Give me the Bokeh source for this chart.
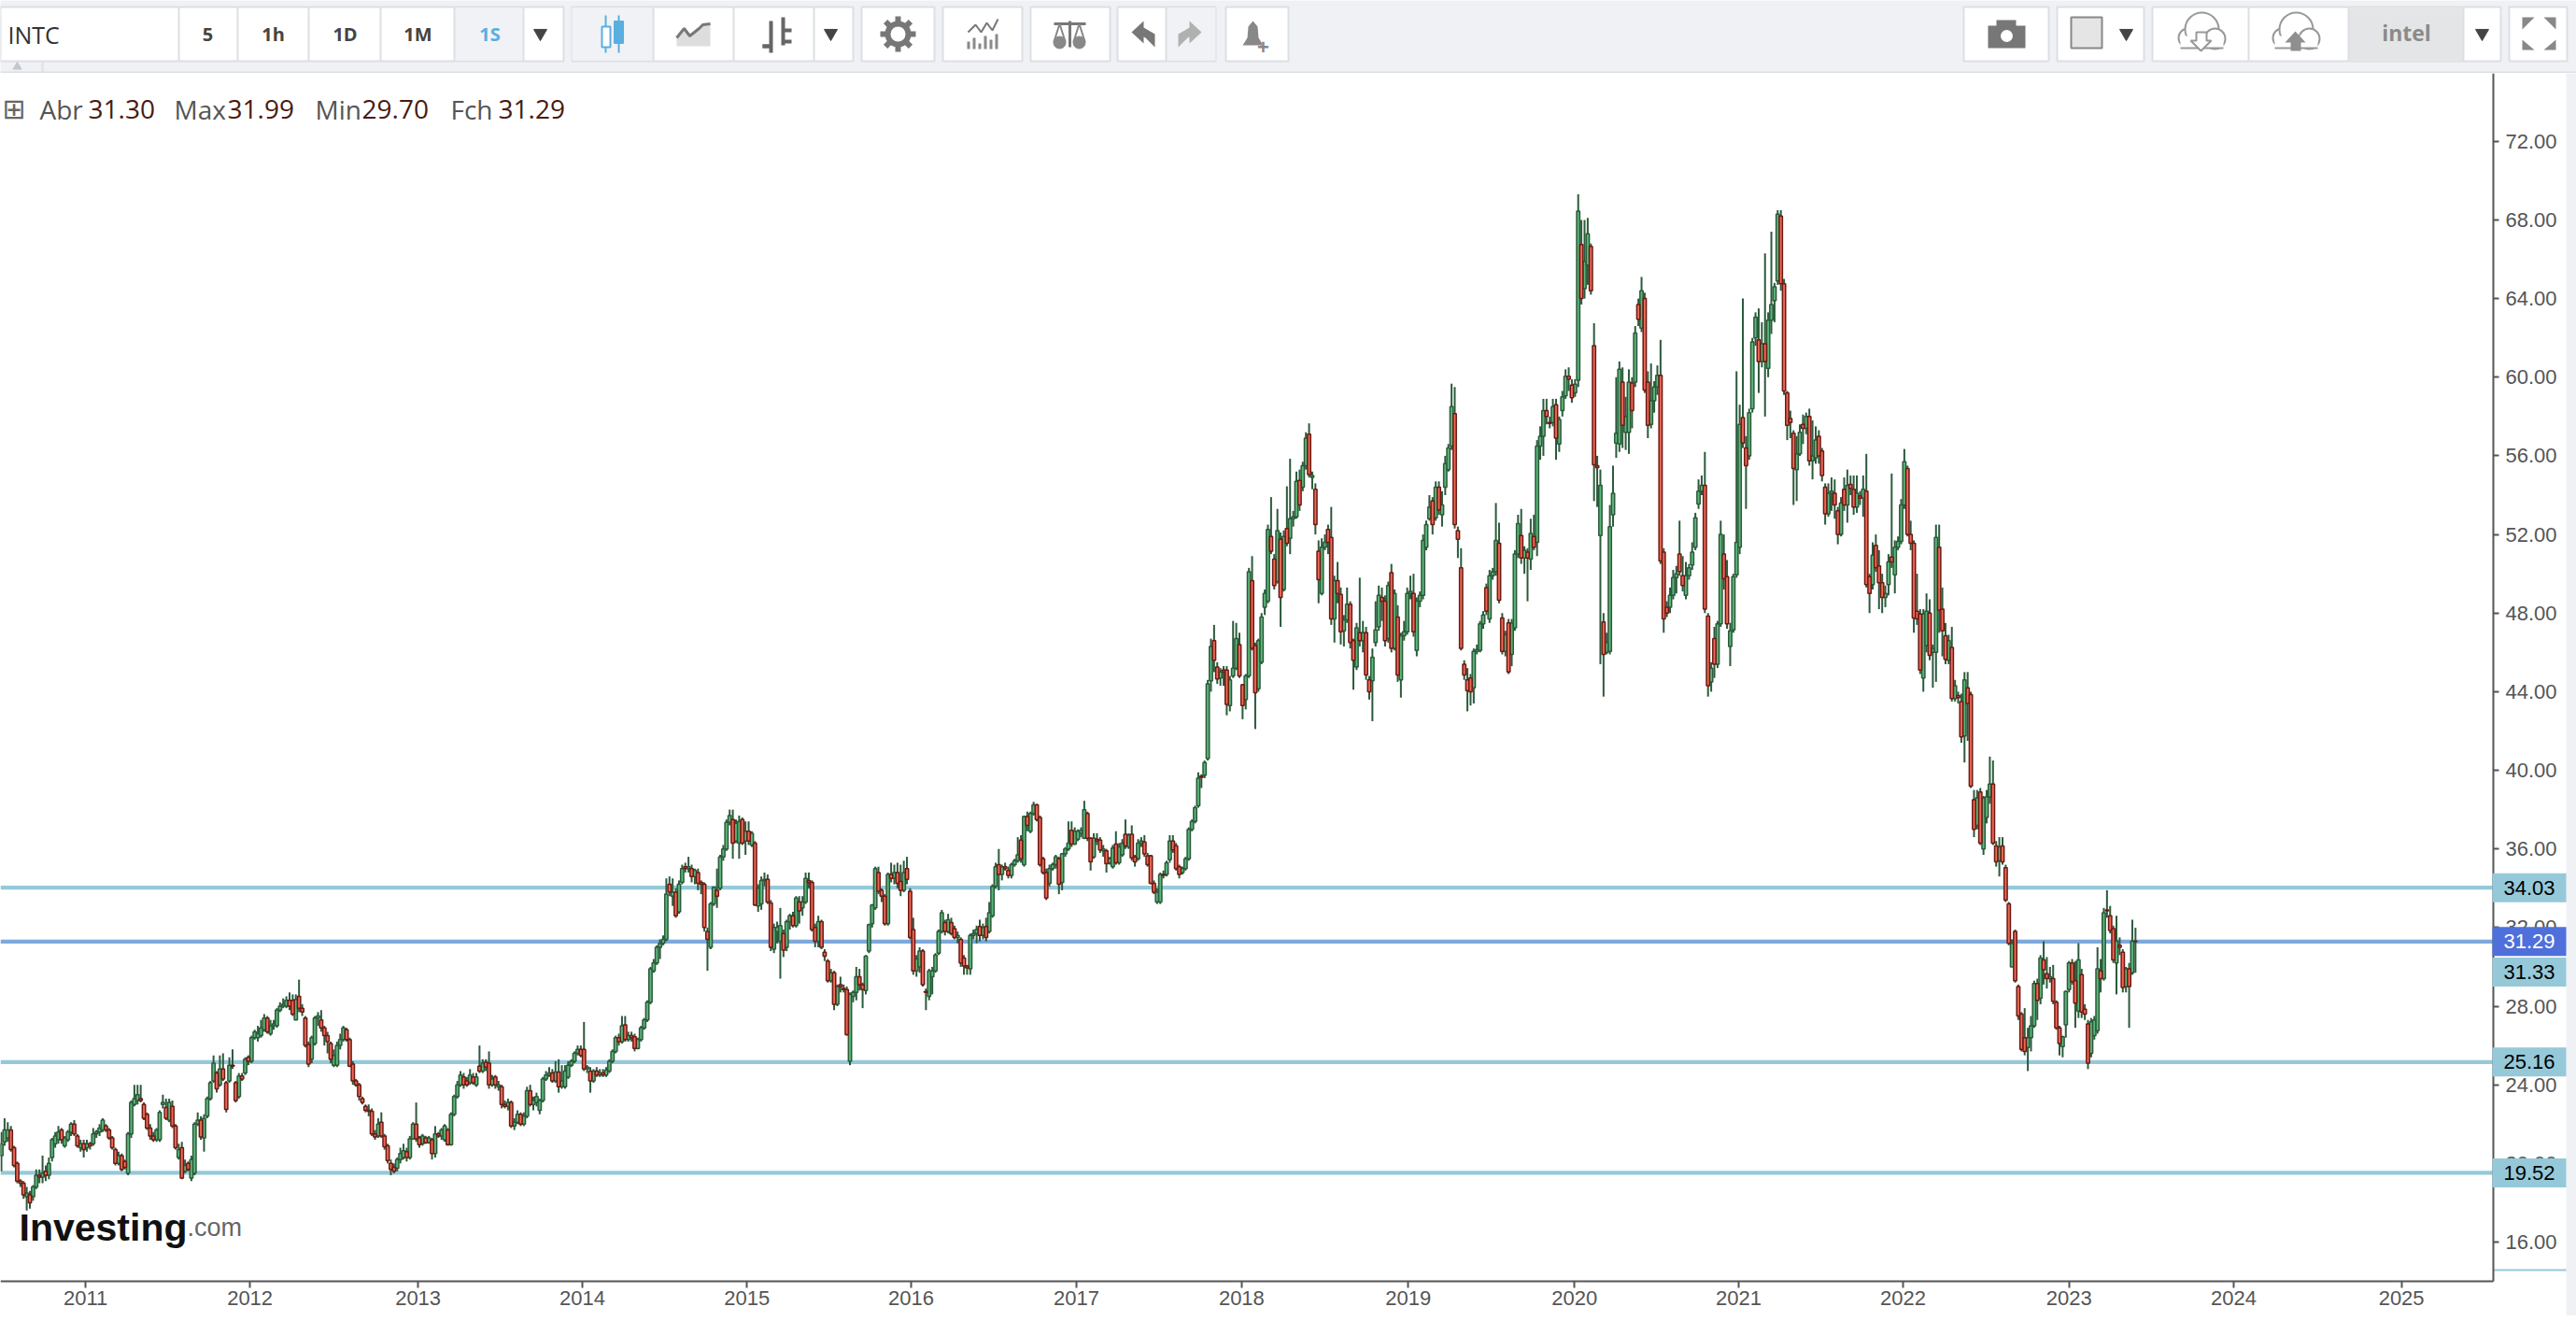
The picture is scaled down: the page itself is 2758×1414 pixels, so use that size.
from bokeh.plotting import figure
from bokeh.layouts import column
from bokeh.models import Range1d, FixedTicker, NumeralTickFormatter, Label
from bokeh.core.properties import value
from bokeh.embed import file_html
from bokeh.resources import INLINE

# weekly INTC candles, rows of ten
opens = [
20.4,21.1,21.3,21.7,20.8,20.0,19.1,19.0,18.3,18.4,
18.3,18.8,19.4,19.3,19.6,19.4,20.3,21.0,21.2,21.7,
20.9,21.2,21.6,22.0,21.4,20.8,21.0,20.8,21.0,21.0,
21.5,21.6,21.7,21.9,21.7,21.3,20.7,20.0,20.4,20.1,
19.5,21.5,23.0,23.2,23.3,23.0,22.5,21.8,21.4,21.2,
21.2,23.0,22.85,22.2,22.9,21.9,20.3,20.8,19.6,20.0,
19.25,19.5,22.0,22.2,21.3,22.4,23.3,24.2,24.6,24.0,
24.8,24.1,24.2,25.0,24.1,23.4,24.45,24.6,25.4,25.2,
26.4,26.4,26.5,26.8,27.4,26.6,27.0,27.0,27.8,28.0,
28.0,28.3,28.3,27.3,28.5,27.9,27.4,26.05,25.3,26.1,
27.4,27.3,26.9,26.5,26.1,25.0,25.0,26.0,26.3,26.8,
26.3,25.05,24.2,24.0,23.3,22.9,22.7,22.65,21.5,21.4,
22.1,21.4,20.9,20.0,19.8,19.75,20.2,20.3,20.6,20.3,
21.25,22.0,21.3,21.0,21.3,21.05,21.2,20.5,21.5,21.4,
21.2,21.7,20.95,22.5,23.4,24.0,24.4,24.2,24.1,24.4,
24.0,24.95,24.7,25.15,25.1,24.0,24.4,23.9,23.9,23.0,
22.9,23.1,21.9,22.1,22.5,22.0,22.4,23.7,23.0,23.1,
22.7,23.2,24.3,24.5,24.6,24.2,24.65,23.9,23.9,24.4,
25.0,25.2,25.6,25.8,25.8,24.8,24.7,24.2,24.7,24.5,
24.6,24.5,24.7,25.2,25.7,26.4,26.2,27.05,26.3,26.5,
26.45,25.85,26.3,26.9,27.3,28.2,29.8,30.2,31.0,31.2,
31.4,34.2,33.6,33.8,32.8,34.3,35.1,35.0,35.0,34.6,
34.8,34.3,34.2,31.8,31.0,33.2,33.9,34.0,35.6,36.0,
37.35,37.5,36.4,36.3,37.5,36.4,36.9,36.2,36.3,33.1,
33.2,34.4,34.45,33.25,30.9,31.8,31.3,31.7,31.0,32.3,
32.6,32.1,33.3,33.0,33.3,34.4,34.3,32.0,31.3,32.3,
30.75,30.3,29.3,29.7,28.1,29.1,28.9,28.85,25.2,28.5,
28.7,29.5,29.1,28.8,30.8,32.2,33.0,34.8,33.9,33.6,
32.2,34.7,34.5,34.8,34.35,33.9,35.0,33.85,31.9,29.8,
30.0,30.8,28.75,28.5,29.5,29.8,30.7,31.8,32.25,31.8,
32.25,31.95,31.5,31.4,30.45,30.05,29.9,31.6,31.7,32.05,
31.6,32.05,31.8,32.6,34.1,35.2,34.7,35.1,34.9,34.65,
35.2,35.4,36.45,35.2,37.65,36.9,37.8,38.25,37.6,35.5,
34.8,34.25,35.0,35.2,35.5,34.3,35.75,36.0,36.95,36.25,
36.5,36.8,36.55,37.8,36.55,35.6,36.5,36.45,35.9,35.9,
35.3,35.1,36.25,35.3,35.7,36.75,36.1,36.75,35.6,35.5,
36.3,36.35,35.65,35.65,34.25,33.3,33.3,34.7,34.7,35.45,
36.4,36.15,35.1,34.8,35.0,35.5,37.0,37.4,38.2,39.7,
39.75,40.6,44.55,46.6,45.25,44.7,45.1,45.1,43.3,44.8,
45.2,46.4,44.35,43.6,44.8,49.65,46.35,44.15,45.5,48.3,
48.6,51.9,50.75,49.6,51.75,49.2,52.3,51.8,52.8,52.9,
54.75,54.4,55.5,57.1,54.9,54.3,51.15,49.0,51.35,52.25,
51.85,47.7,49.65,48.95,47.1,47.65,48.45,46.6,45.25,47.0,
46.6,47.0,44.6,44.55,46.5,47.3,48.8,48.6,46.7,50.05,
46.2,47.8,44.6,46.85,47.05,49.0,49.0,46.1,48.6,48.9,
51.35,52.8,53.7,52.85,54.4,53.0,54.4,55.3,56.5,58.15,
52.2,50.3,45.4,44.6,44.7,44.2,46.05,46.1,47.45,49.3,
47.7,49.9,50.1,51.55,47.75,46.05,47.5,45.9,47.25,51.0,
51.95,50.8,51.1,50.75,51.9,51.6,56.5,57.0,58.3,57.7,
57.7,58.6,56.6,58.3,59.05,60.05,59.6,59.2,59.85,66.75,
64.5,65.7,66.65,61.6,55.5,51.95,47.55,46.0,46.05,53.0,
56.65,56.6,59.75,57.2,57.2,59.7,59.75,63.7,62.5,64.0,
59.75,57.6,58.8,59.5,60.1,51.1,48.3,48.3,48.9,49.8,
51.0,49.9,48.9,49.9,50.45,51.35,53.55,54.2,54.5,47.85,
44.5,46.7,45.4,47.45,51.0,49.85,46.3,47.15,49.95,51.35,
57.95,56.4,56.0,58.4,62.0,61.9,60.8,61.7,60.45,62.9,
63.9,64.9,68.2,64.75,59.2,57.9,57.15,55.3,56.1,57.6,
57.4,58.0,55.75,55.9,57.0,56.25,54.4,53.05,54.1,54.1,
53.2,52.0,54.3,53.5,54.55,54.3,53.4,53.95,53.85,54.2,
49.85,49.45,51.45,50.4,49.55,48.8,49.45,50.85,49.95,51.35,
51.65,53.5,55.35,52.0,51.55,48.1,47.95,44.7,46.35,48.0,
46.0,46.0,51.35,48.2,46.85,45.6,46.25,43.65,43.8,43.5,
41.75,44.2,43.85,38.5,37.2,38.9,36.0,37.6,38.65,39.3,
36.15,35.4,36.15,35.05,33.2,30.0,31.8,29.0,27.6,26.4,
25.9,26.4,27.0,29.15,28.4,30.35,29.65,29.4,29.4,28.2,
26.9,25.95,27.05,28.85,30.2,29.3,27.75,29.6,27.85,27.1,
25.6,26.5,26.75,29.8,29.4,32.9,32.6,31.95,30.2,31.1,
30.75,29.0,29.9,29.7,31.30]
closes = [
21.0,21.7,21.7,20.7,19.9,19.1,19.0,18.4,18.5,18.0,
18.8,19.4,19.3,19.5,19.4,20.0,21.2,21.4,21.6,21.2,
21.3,21.6,22.0,21.5,20.9,21.0,20.7,21.0,20.9,21.5,
21.6,21.8,22.2,21.7,21.3,20.8,20.0,20.4,19.7,19.8,
21.5,23.1,23.3,23.5,23.2,22.3,21.8,21.4,21.2,21.7,
22.6,23.1,22.3,23.1,21.9,20.8,20.7,19.25,19.9,19.7,
20.2,22.0,22.2,21.35,22.3,23.3,24.1,25.1,23.8,24.8,
24.3,22.75,25.0,24.95,23.2,24.45,24.3,25.3,25.2,26.4,
26.7,26.6,26.9,27.4,26.7,27.0,27.1,27.8,28.0,28.1,
28.3,28.0,27.6,28.35,27.9,27.7,26.0,25.05,26.4,27.4,
27.5,26.9,26.5,26.2,25.3,25.5,26.0,26.3,26.9,26.3,
24.95,24.2,24.0,23.4,23.1,22.7,22.65,21.5,21.35,22.0,
21.4,20.85,20.15,19.7,19.6,20.2,20.5,20.65,20.3,21.25,
22.0,21.25,20.95,21.4,21.05,21.3,20.5,21.5,21.4,21.7,
21.9,20.95,22.5,23.4,24.0,24.5,24.0,24.0,24.5,24.1,
24.4,24.7,25.1,24.9,24.0,24.3,24.0,24.0,23.0,22.9,
23.1,21.9,22.1,22.5,22.0,22.4,23.7,23.0,23.2,23.4,
23.2,24.3,24.5,24.6,24.2,24.65,23.9,24.2,24.7,25.0,
25.2,25.6,25.8,25.5,24.8,24.9,24.2,24.7,24.5,24.6,
24.5,24.75,25.2,25.7,26.4,26.2,27.0,26.3,26.5,26.4,
25.85,26.3,26.9,27.3,28.2,29.9,30.2,31.0,31.2,31.4,
33.7,33.8,33.8,32.6,34.2,35.0,35.0,35.1,34.6,34.9,
34.25,34.2,32.0,31.4,33.2,34.05,33.6,35.6,36.0,37.35,
37.7,36.3,37.3,37.4,36.3,36.9,36.4,36.8,33.15,34.0,
34.4,34.45,33.3,31.0,32.0,32.0,32.1,30.85,32.3,32.6,
32.1,33.5,32.85,33.3,34.5,34.3,31.9,31.3,32.3,31.0,
30.55,29.3,29.7,28.1,29.0,29.0,28.85,26.55,28.6,28.7,
29.5,29.1,28.85,30.55,32.15,33.15,35.0,33.85,33.6,32.2,
34.7,34.5,34.8,34.25,33.9,34.8,34.45,31.5,29.8,30.4,
30.8,29.1,28.7,29.8,29.8,30.6,31.8,32.75,31.8,32.4,
31.7,31.5,31.6,30.2,30.05,29.95,31.6,31.7,31.9,31.6,
32.0,31.5,32.75,34.1,35.1,34.7,35.1,35.0,34.65,35.2,
35.4,35.7,35.5,37.65,37.2,37.8,38.25,37.5,35.2,34.8,
33.5,35.0,35.2,35.6,34.2,35.75,36.0,36.3,36.25,36.9,
36.9,36.95,38.0,36.55,35.35,36.55,36.4,35.95,36.0,35.25,
35.5,36.05,35.3,36.1,36.3,36.15,36.7,35.55,35.35,36.3,
36.4,35.75,35.2,34.25,33.8,33.8,34.7,34.65,35.3,36.4,
35.95,35.0,34.7,35.0,35.5,37.0,37.4,38.1,39.6,39.65,
40.4,44.4,46.3,45.6,44.65,45.0,45.0,43.35,44.6,45.2,
46.7,44.8,43.3,44.8,50.1,46.2,43.95,46.6,47.8,49.0,
52.25,51.15,49.4,52.2,48.8,51.9,51.55,52.8,52.9,54.7,
53.5,55.5,56.9,55.05,55.0,52.5,49.7,51.35,51.6,51.6,
47.7,49.65,49.0,47.05,47.65,48.45,46.5,45.6,47.25,46.6,
47.0,44.85,44.0,45.75,47.15,48.9,48.6,46.6,49.4,46.2,
49.0,44.85,46.85,47.05,49.0,49.1,47.05,48.6,48.9,51.7,
52.5,53.4,52.5,54.4,53.25,53.5,55.6,56.4,58.5,52.5,
51.75,46.2,44.85,44.05,44.0,46.05,46.15,47.45,47.9,48.1,
49.9,50.1,51.7,48.65,46.05,46.9,45.0,47.5,51.0,52.55,
50.8,51.2,50.8,52.05,51.35,56.5,57.0,58.3,58.0,57.65,
58.5,56.9,57.85,59.0,60.05,59.9,58.95,59.65,68.45,64.0,
65.9,67.3,64.4,55.55,55.4,54.5,45.9,46.5,52.4,54.1,
57.15,60.4,57.55,58.0,59.75,58.3,62.25,62.95,64.4,59.35,
57.55,58.8,59.5,60.1,50.65,47.7,48.0,48.9,49.8,50.0,
50.1,49.4,49.9,50.3,51.1,52.85,54.2,54.5,48.2,44.3,
45.2,45.4,47.45,52.0,49.75,47.45,47.1,49.85,51.6,57.6,
56.65,55.5,58.2,61.8,63.05,60.8,61.7,60.8,62.9,63.7,
64.6,68.3,64.75,59.3,57.55,57.7,55.35,56.1,57.2,57.4,
58.0,55.75,56.0,56.8,56.0,55.0,53.05,54.1,54.2,53.5,
52.0,53.6,53.5,54.5,54.35,53.4,54.1,53.85,54.3,49.45,
49.0,50.95,50.3,49.55,48.8,49.0,50.6,50.6,51.35,51.65,
53.5,55.7,52.0,51.55,47.75,47.7,45.1,47.95,48.1,45.85,
46.2,51.85,48.15,47.1,45.65,46.6,43.65,44.3,43.7,41.7,
44.6,43.4,39.2,37.0,38.6,36.3,38.6,38.65,39.3,36.3,
35.35,36.1,35.35,33.4,31.2,31.2,29.3,27.5,25.8,25.7,
26.4,27.0,29.15,28.3,30.45,29.85,29.4,29.5,28.25,26.9,
26.1,26.45,28.75,30.2,29.25,28.15,30.35,27.7,27.6,25.1,
27.2,27.3,29.9,29.4,32.75,32.85,31.85,30.35,31.3,31.0,
28.95,29.9,29.0,31.3,31.29]
highs = [
21.6,22.3,22.1,21.9,20.9,20.1,19.2,19.1,18.8,18.6,
18.9,19.7,19.7,20.4,19.9,20.3,21.3,21.6,21.9,21.8,
21.4,21.7,22.1,22.2,21.5,21.2,21.2,21.2,21.1,21.8,
21.7,22.0,22.3,22.0,21.8,21.4,20.8,20.6,20.5,20.2,
21.6,23.2,24.0,24.0,24.0,23.1,22.6,22.0,21.6,21.8,
22.7,23.5,23.3,23.3,23.2,22.0,21.0,21.1,20.2,20.1,
20.4,22.1,22.6,22.4,22.5,23.4,24.2,25.5,24.7,25.5,
25.6,24.2,25.4,25.8,24.2,24.6,24.6,25.4,25.5,26.5,
26.8,27.0,27.3,27.6,27.5,27.3,27.3,27.9,28.2,28.4,
28.5,28.7,28.6,28.6,29.35,28.1,27.5,26.2,26.5,27.5,
27.7,27.8,27.0,26.7,26.2,25.8,26.2,26.6,27.0,26.9,
26.4,25.2,24.3,24.1,23.4,23.0,23.0,22.8,21.7,22.3,
22.6,21.5,21.0,20.2,20.0,20.3,20.8,21.0,20.8,21.4,
22.1,23.1,21.4,21.5,21.4,21.4,21.3,21.9,21.6,21.8,
22.0,21.8,22.6,23.5,24.2,24.7,24.6,24.4,24.8,24.6,
24.6,26.0,25.3,25.3,25.7,24.5,24.5,24.2,24.0,23.2,
23.3,23.2,22.3,22.7,22.6,22.6,23.9,24.0,23.4,23.6,
23.3,24.4,24.7,24.9,24.8,25.2,25.3,25.0,25.0,25.2,
25.3,25.7,26.0,26.0,27.2,25.0,24.9,24.8,24.9,24.8,
24.8,24.9,25.3,25.8,26.5,26.6,27.5,27.5,26.7,26.7,
26.6,26.4,27.0,27.4,28.3,30.0,30.4,31.1,31.4,31.6,
34.5,34.6,34.5,34.0,34.4,35.2,35.3,35.6,35.2,35.0,
35.0,34.4,34.3,32.0,33.3,34.1,35.0,35.7,36.2,37.5,
38.0,38.0,37.5,37.7,37.6,37.4,37.4,36.9,36.4,34.2,
34.6,34.8,34.7,33.4,32.2,32.3,33.0,31.9,32.4,32.7,
32.8,33.6,33.6,33.6,34.8,34.8,34.4,32.2,32.6,32.4,
30.9,30.4,29.9,29.8,29.1,29.5,29.1,29.0,28.7,28.8,
30.0,29.9,29.2,30.6,32.2,33.2,35.1,35.1,34.0,33.7,
34.8,35.3,35.2,35.3,35.2,35.4,35.6,34.0,32.5,30.6,
31.0,30.9,28.9,29.9,30.0,30.7,31.9,32.9,32.4,32.7,
32.5,32.1,31.8,31.5,30.6,30.1,31.7,31.9,32.1,32.4,
32.2,32.5,33.3,34.2,35.3,36.0,35.2,35.3,35.1,35.3,
35.5,36.6,36.7,37.7,37.9,37.9,38.4,38.3,37.7,35.6,
35.0,35.2,35.3,35.7,35.6,35.8,36.1,37.4,37.4,37.1,
37.0,37.1,38.45,37.9,36.6,36.8,36.8,36.6,36.2,36.0,
35.6,36.2,36.9,36.3,36.5,37.5,36.8,37.2,35.7,36.5,
36.6,36.7,35.8,35.7,34.4,34.0,34.8,34.9,35.4,36.7,
36.7,36.3,35.2,35.1,35.6,37.1,37.5,38.2,39.9,39.8,
40.5,44.6,46.7,47.4,45.5,45.2,45.3,45.3,44.8,47.6,
47.5,47.0,44.4,44.9,50.3,50.9,46.5,46.7,48.0,49.2,
52.5,53.9,51.0,53.3,52.1,52.2,54.45,55.85,53.2,55.2,
55.3,55.7,57.2,57.65,55.2,54.6,51.7,51.8,52.0,52.5,
53.4,49.9,50.6,49.3,47.9,49.3,48.6,46.7,47.5,49.8,
47.6,47.3,44.8,46.2,48.6,49.4,49.3,48.9,49.6,50.5,
49.2,48.4,47.0,47.6,49.3,49.9,50.0,48.8,49.1,52.0,
52.7,54.0,53.9,54.7,54.7,54.2,56.0,56.6,59.67,59.5,
52.4,51.3,45.6,45.2,44.9,46.2,46.4,47.6,48.1,49.5,
50.2,50.3,53.6,52.6,48.0,47.1,47.7,47.7,51.2,53.0,
53.3,51.4,51.3,52.8,53.0,56.8,57.5,58.9,58.9,58.0,
58.9,58.9,58.0,59.3,60.4,60.5,59.9,59.9,69.3,68.0,
68.0,68.1,66.8,62.75,56.0,55.3,48.0,47.0,53.5,55.5,
60.0,60.8,60.5,59.0,60.4,60.0,62.6,64.0,65.1,64.3,
60.3,60.7,59.8,60.6,61.9,51.3,48.6,49.3,50.2,50.4,
52.7,50.9,50.6,50.5,51.6,53.1,54.8,55.0,56.2,48.0,
45.5,47.3,47.6,52.7,52.0,50.7,47.5,50.0,60.3,58.6,
64.0,57.0,58.4,62.0,63.3,63.5,62.8,66.3,63.3,67.4,
64.8,68.5,68.5,65.0,59.3,58.3,57.3,57.0,57.6,58.1,
58.2,58.4,57.8,57.5,57.3,56.4,54.6,54.6,54.9,54.8,
53.4,53.9,54.9,55.3,55.0,55.0,55.0,54.2,55.0,56.1,
50.0,51.6,52.0,51.2,50.0,49.4,51.0,55.1,51.7,51.9,
53.8,56.35,55.5,52.7,51.7,50.0,48.2,48.2,49.0,48.7,
46.4,52.5,52.5,49.3,47.5,46.9,47.3,44.6,44.0,43.9,
45.0,45.0,44.0,39.0,39.0,39.1,38.7,39.0,40.7,40.5,
36.4,36.6,36.6,35.2,33.3,31.4,31.9,29.1,27.7,27.9,
26.9,27.5,29.3,29.4,30.6,31.3,30.5,30.0,30.1,28.3,
27.0,26.5,28.8,30.3,30.4,30.3,31.2,29.9,28.1,27.3,
27.4,27.5,31.0,30.4,33.0,33.9,33.1,32.1,32.6,31.5,
30.9,30.0,30.2,32.4,31.99]
lows = [
19.6,20.9,21.1,20.6,19.8,19.0,18.8,18.2,17.6,17.7,
18.1,18.7,19.0,19.0,19.1,19.2,20.1,20.8,21.0,21.0,
20.8,21.1,21.4,21.4,20.8,20.6,20.3,20.6,20.7,20.9,
21.3,21.4,21.6,21.6,21.2,20.7,19.9,19.9,19.6,19.7,
19.4,21.3,22.9,23.0,23.1,22.2,21.7,21.2,21.1,21.1,
21.1,22.8,22.2,22.1,21.8,20.7,20.2,19.2,19.5,19.6,
19.1,19.4,21.9,21.2,20.6,22.3,23.2,24.1,23.6,23.9,
24.2,22.6,24.1,24.8,23.1,23.3,24.2,24.5,25.0,25.1,
26.3,26.2,26.4,26.7,26.6,26.5,26.8,26.9,27.7,27.9,
27.9,27.8,27.5,27.3,27.7,27.5,25.9,24.9,25.1,26.0,
27.0,26.7,26.0,25.6,25.1,24.9,24.9,25.8,26.2,26.2,
24.9,24.0,23.9,23.2,23.0,22.6,22.4,21.4,21.2,21.3,
21.3,20.7,20.0,19.4,19.5,19.6,20.0,20.2,20.1,20.2,
21.2,21.1,20.8,20.9,21.0,21.0,20.2,20.3,21.3,21.2,
21.1,20.9,20.9,22.4,23.3,23.9,23.8,23.9,24.0,24.0,
23.9,24.6,24.6,24.7,23.8,23.9,23.8,23.7,22.8,22.8,
22.7,21.8,21.7,22.0,21.9,21.9,22.3,22.9,22.7,22.9,
22.5,23.1,24.2,24.4,24.1,24.1,23.6,23.8,23.8,24.3,
24.9,25.1,25.5,25.4,24.7,24.6,23.6,24.1,24.4,24.4,
24.4,24.4,24.6,25.1,25.6,26.0,26.1,26.2,26.2,26.2,
25.7,25.8,26.2,26.8,27.2,28.1,29.7,30.1,30.4,31.1,
31.3,33.6,33.1,32.5,32.7,34.2,34.8,34.8,34.3,34.2,
33.9,33.7,31.8,29.8,30.9,33.1,33.0,33.9,35.4,35.9,
37.2,35.5,36.3,35.5,36.2,35.7,36.2,36.1,33.1,32.8,
32.9,34.1,33.2,30.8,30.7,31.2,29.4,30.5,30.8,31.9,
32.0,32.0,32.2,32.6,33.2,34.0,31.8,31.0,31.0,30.9,
30.3,29.2,29.2,27.8,28.0,28.7,28.7,26.5,25.0,28.2,
28.3,28.8,27.9,28.6,30.7,32.0,32.9,33.7,33.3,32.1,
32.1,34.3,34.2,34.0,33.6,33.8,34.2,31.4,29.6,29.5,
29.7,29.0,27.8,28.3,28.6,29.7,30.6,31.7,31.6,31.7,
31.6,31.4,31.2,30.0,29.6,29.6,29.6,31.4,31.2,31.3,
31.4,31.3,31.7,32.5,34.0,33.9,34.4,34.9,34.5,34.5,
35.1,35.3,35.3,35.1,36.9,36.8,37.7,37.4,35.1,34.7,
33.4,34.1,34.9,35.0,33.7,33.9,35.6,35.9,36.1,36.2,
36.4,36.6,36.5,36.4,34.9,35.5,36.2,35.8,35.6,34.8,
35.2,35.0,35.2,35.2,35.6,36.0,36.0,35.4,35.1,35.4,
36.1,35.6,35.1,34.2,33.7,33.2,33.2,34.5,34.6,35.3,
35.8,34.9,34.5,34.7,34.9,35.4,36.9,37.3,38.1,39.1,
39.6,40.5,44.0,45.0,44.4,44.3,44.3,42.8,43.0,44.7,
45.1,44.7,42.6,43.1,44.7,46.1,42.1,44.0,45.4,47.9,
48.5,51.0,49.2,49.5,47.3,49.1,51.4,51.0,52.4,52.8,
53.2,54.2,55.3,54.9,54.3,52.0,48.5,48.9,51.2,51.0,
47.4,46.5,48.5,46.4,46.3,47.5,46.2,44.1,45.1,46.3,
46.0,44.6,43.6,42.5,46.3,47.1,47.6,46.3,46.5,46.0,
46.1,44.5,43.7,46.6,46.9,48.7,46.8,45.8,48.3,48.7,
51.2,52.7,52.0,52.7,53.0,52.4,54.0,55.2,56.3,52.3,
50.8,46.1,44.6,43.0,43.3,43.4,45.9,46.0,47.2,47.9,
47.5,49.7,49.9,48.5,45.9,45.8,44.9,45.3,47.1,50.8,
50.5,50.0,48.6,50.2,51.2,50.9,55.8,56.0,57.6,57.4,
57.5,55.8,56.2,58.0,58.9,59.3,58.7,59.0,59.5,63.7,
64.0,64.7,64.2,53.7,53.4,45.4,43.75,45.9,45.9,52.4,
55.9,56.2,56.4,56.3,56.1,57.4,59.5,62.6,62.3,59.2,
56.9,57.4,58.2,59.1,50.5,47.0,47.8,48.0,48.7,49.0,
49.9,49.1,48.7,49.7,50.2,51.2,53.3,54.0,48.0,43.75,
44.0,44.7,45.2,47.3,49.2,47.2,45.3,47.0,49.8,51.0,
56.4,53.3,55.8,58.2,61.6,59.2,60.5,58.0,60.0,62.2,
62.8,64.7,64.4,59.1,56.8,56.9,53.5,53.7,56.0,56.6,
57.1,55.5,54.8,55.6,55.6,54.7,52.5,52.9,53.2,52.8,
51.5,51.9,53.2,52.6,54.0,53.0,53.1,53.5,52.9,49.3,
48.0,49.2,50.1,48.2,48.0,48.3,48.9,50.3,49.0,51.2,
51.5,53.3,51.9,51.2,47.0,47.4,44.9,44.0,46.0,45.6,
44.2,44.5,47.0,45.8,45.4,45.4,43.5,43.5,43.4,41.4,
40.4,41.5,39.1,36.6,37.0,36.2,35.7,37.3,38.3,36.2,
35.1,34.6,35.2,33.3,31.1,30.0,29.2,27.3,25.7,25.5,
24.7,25.7,26.9,27.3,28.1,29.1,28.9,29.2,28.1,26.8,
25.5,25.4,26.4,28.7,29.1,26.9,27.4,27.4,27.3,24.8,
25.4,26.3,26.6,28.7,29.3,32.5,31.7,30.2,28.6,30.6,
28.7,28.7,26.9,29.6,29.70]
weeks = list(range(len(closes)))

year_labels = ["2011","2012","2013","2014","2015","2016","2017","2018","2019","2020","2021","2022","2023","2024","2025"]
year_weeks = [26.6,78.5,131.6,183.5,235.5,287.3,339.5,391.7,444.3,496.8,548.7,600.6,653,705,758]
price_ticks = [16,20,24,28,32,36,40,44,48,52,56,60,64,68,72]
level_lines = [34.03, 25.16, 19.52]
last_price = 31.29
tags = [("34.03",34.03,"#95c9d9","#000000"),("31.29",31.29,"#4f6fdb","#ffffff"),
        ("31.33",29.74,"#95c9d9","#000000"),("25.16",25.16,"#95c9d9","#000000"),("19.52",19.52,"#95c9d9","#000000")]
legend = [("Abr",42,"31.30",94),("Max",186,"31.99",243),("Min",337,"29.70",387),("Fch",482,"31.29",533)]

assert len(opens)==len(closes)==len(highs)==len(lows), (len(opens),len(closes),len(highs),len(lows))

UI = value("Open Sans")
AR = value("Liberation Sans")
GREEN_L, GREEN_F = "#2b5a3b", "#5cb87a"
RED_L, RED_F = "#6b1a14", "#ef6a57"
STRIP = "#eff1f5"

# ---------- toolbar strip (page pixels) ----------
t = figure(width=2758, height=78, x_range=Range1d(0,2758), y_range=Range1d(78,0),
           output_backend="svg", toolbar_location=None, min_border=0, outline_line_color=None,
           background_fill_color=STRIP, border_fill_color=STRIP)
t.axis.visible = False
t.grid.visible = False
BORDER = "#dcdfe4"
groups = [(0,603),(612,913),(922,1000),(1009,1094),(1103,1188),(1196,1301),(1312,1379),
          (2102,2193),(2202,2295),(2304,2677),(2686,2748)]
t.quad(left=[g[0] for g in groups], right=[g[1] for g in groups], top=[7]*len(groups), bottom=[65]*len(groups),
       fill_color="#ffffff", line_color=BORDER, line_width=2)
fills = [(486,560,"#f0f2f6"),(612,699,"#f0f2f6"),(1248,1301,"#f0f2f6"),(2514,2637,"#e4e5e6")]
t.quad(left=[f[0] for f in fills], right=[f[1] for f in fills], top=[8]*4, bottom=[64]*4, fill_color=[f[2] for f in fills], line_color=None)
dividers = [191,254,330,407,486,560,699,785,871,1248,2407,2514,2637]
t.segment(x0=dividers, x1=dividers, y0=[7]*len(dividers), y1=[65]*len(dividers), line_color=BORDER, line_width=2)
t.segment(x0=[0], x1=[2758], y0=[77], y1=[77], line_color=BORDER, line_width=2)
t.segment(x0=[45], x1=[45], y0=[65], y1=[76], line_color=BORDER, line_width=2)
t.scatter(x=[18], y=[71], marker="triangle", size=9, color="#c4c8cc")
t.text(x=[8], y=[36], text=["INTC"], text_font=UI, text_font_size="25px", text_font_style="normal",
       text_color="#333333", text_baseline="middle", text_align="left")
t.text(x=[222,292,369,447,524], y=[36]*5, text=["5","1h","1D","1M","1S"], text_font=UI, text_font_size="20px",
       text_font_style="bold", text_color=["#444444"]*4+["#5aaee0"], text_baseline="middle", text_align="center")
t.text(x=[2576], y=[34], text=["intel"], text_font=UI, text_font_size="23px", text_font_style="bold",
       text_color="#8a8a8a", text_baseline="middle", text_align="center")
t.scatter(x=[578,889,2276,2657], y=[35]*4, marker="inverted_triangle", size=14, color="#444444")
# candle icon
t.segment(x0=[648,662], x1=[648,662], y0=[16,16], y1=[56,56], line_color="#5aaee0", line_width=2)
t.quad(left=[644], right=[653], top=[28], bottom=[50], fill_color="#ffffff", line_color="#5aaee0", line_width=2)
t.quad(left=[657], right=[667], top=[22], bottom=[46], fill_color="#5aaee0", line_color="#5aaee0")
# area icon
t.patch([724,724,732,738,748,752,760,760],[49,40,30,38,30,26,25,49], fill_color="#dddddd", line_color=None)
t.line([724,732,738,748,752,760],[40,30,38,30,26,25], line_color="#777777", line_width=3)
# ohlc icon
t.segment(x0=[825,838,816,838,816,838], x1=[825,838,825,847,825,847], y0=[22,18,49,32,49,44], y1=[56,48,49,32,49,44],
          line_color="#666666", line_width=4)
# gear
t.scatter(x=[961], y=[36], marker="asterisk", size=38, line_color="#777777", line_width=6)
t.scatter(x=[961], y=[36], marker="circle", size=22, fill_color="#ffffff", line_color="#777777", line_width=6)
# indicators
t.quad(left=[1035,1041,1047,1053,1059,1065], right=[1038,1044,1050,1056,1062,1068], top=[44,40,46,38,42,36],
       bottom=[52]*6, fill_color="#8a8a8a", line_color=None)
t.line([1036,1044,1050,1056,1062,1068],[34,26,34,24,32,20], line_color="#777777", line_width=2)
# scales
t.segment(x0=[1128,1145], x1=[1162,1145], y0=[25,22], y1=[25,50], line_color="#777777", line_width=3)
t.patch([1134,1128,1140],[25,44,44], fill_color="#ffffff", line_color="#888888", line_width=2)
t.patch([1155,1149,1161],[25,44,44], fill_color="#ffffff", line_color="#888888", line_width=2)
t.scatter(x=[1134,1155], y=[45,45], marker="circle", size=13, color="#888888")
# undo / redo
t.patch([1211,1224,1224,1236,1236,1226,1224,1224],[34,22,29,36,50,40,39,46], fill_color="#777777", line_color=None)
t.patch([1286,1273,1273,1261,1261,1271,1273,1273],[34,22,29,36,50,40,39,46], fill_color="#b0b0b0", line_color=None)
# bell
t.patch([1341,1336,1335,1330,1352,1347,1346],[22,28,40,48,48,40,28], fill_color="#888888", line_color=None)
t.text(x=[1352], y=[50], text=["+"], text_font=AR, text_font_size="22px", text_font_style="bold", text_color="#888888",
       text_align="center", text_baseline="middle")
# camera
t.quad(left=[2128], right=[2168], top=[27], bottom=[51], fill_color="#777777", line_color=None)
t.quad(left=[2137], right=[2158], top=[21], bottom=[28], fill_color="#777777", line_color=None)
t.scatter(x=[2148], y=[38], marker="circle", size=15, fill_color="#ffffff", line_color="#777777", line_width=2)
# swatch
t.quad(left=[2217], right=[2250], top=[18], bottom=[51], fill_color="#e5e5e5", line_color="#888888", line_width=2)
# clouds
for cx, up in ((2356,False),(2457,True)):
    t.scatter(x=[cx-14,cx+1,cx+15], y=[40,31,41], marker="circle", size=[20,36,22], fill_color="#ffffff", line_color="#999999", line_width=2)
    t.quad(left=[cx-22], right=[cx+24], top=[38], bottom=[51], fill_color="#ffffff", line_color=None)
    t.segment(x0=[cx-22], x1=[cx+24], y0=[51], y1=[51], line_color="#999999", line_width=2)
    if up:
        t.patch([cx,cx-11,cx-5,cx-5,cx+6,cx+6,cx+11],[33,45,45,54,54,45,45], fill_color="#8f8f8f", line_color=None)
    else:
        t.patch([cx,cx-11,cx-5,cx-5,cx+6,cx+6,cx+11],[54,43,43,34,34,43,43], fill_color="#ffffff", line_color="#999999", line_width=2)
# fullscreen arrows
t.patches(xs=[[2700,2713,2700],[2736,2723,2736],[2700,2713,2700],[2736,2723,2736]],
          ys=[[18,18,31],[18,18,31],[53,53,42],[53,53,42]], fill_color="#888888", line_color=None)

# ---------- chart ----------
x0 = -1/3.39
x1 = (2758-1)/3.39
axis_x = (2669-1)/3.39
strip_x = (2747-1)/3.39
y_bottom = 14.0
y_low = 16 + (1329-1408)/21.04
y_high = 75.46
p = figure(width=2758, height=1330, x_range=Range1d(x0,x1), y_range=Range1d(y_low,y_high),
           y_axis_location="right", output_backend="svg", toolbar_location=None, min_border=0,
           outline_line_color=None, background_fill_color="#ffffff", border_fill_color="#ffffff")
p.grid.visible = False

p.quad(left=[strip_x], right=[x1], bottom=[y_low], top=[y_high], fill_color=STRIP, line_color=None)
p.segment(x0=[x0]*3, x1=[axis_x]*3, y0=level_lines, y1=level_lines, line_color="#95c9d9", line_width=4.2)
p.segment(x0=[x0], x1=[axis_x], y0=[last_price], y1=[last_price], line_color="#7ea9da", line_width=4.2)
p.segment(x0=[axis_x], x1=[strip_x], y0=[14.57], y1=[14.57], line_color="#95c9d9", line_width=2)

p.segment(x0=weeks, x1=weeks, y0=lows, y1=highs, line_color=GREEN_L, line_width=2)
up_i = [i for i in weeks if closes[i] >= opens[i]]
dn_i = [i for i in weeks if closes[i] < opens[i]]
p.vbar(x=up_i, width=1.0, bottom=[opens[i] for i in up_i], top=[closes[i] for i in up_i],
       fill_color=GREEN_F, line_color=GREEN_L, line_width=1.5)
p.vbar(x=dn_i, width=1.0, bottom=[closes[i] for i in dn_i], top=[opens[i] for i in dn_i],
       fill_color=RED_F, line_color=RED_L, line_width=1.5)

p.segment(x0=[x0,axis_x], x1=[axis_x,axis_x], y0=[y_bottom,y_bottom], y1=[y_bottom,y_high], line_color="#555555", line_width=2)

xa = p.xaxis[0]
xa.fixed_location = y_bottom
xa.ticker = FixedTicker(ticks=year_weeks)
xa.major_label_overrides = {w: l for w, l in zip(year_weeks, year_labels)}
xa.minor_tick_line_color = None
xa.major_tick_in = 0
xa.major_tick_out = 7
xa.major_tick_line_color = "#555555"
xa.major_tick_line_width = 2
xa.axis_line_color = None
xa.major_label_standoff = 3
xa.major_label_text_font = "Liberation Sans"
xa.major_label_text_font_size = "22px"
xa.major_label_text_color = "#555555"

ya = p.yaxis[0]
ya.fixed_location = axis_x
ya.ticker = FixedTicker(ticks=price_ticks)
ya.formatter = NumeralTickFormatter(format="0.00")
ya.minor_tick_line_color = None
ya.major_tick_in = 0
ya.major_tick_out = 6
ya.major_tick_line_color = "#555555"
ya.major_tick_line_width = 2
ya.axis_line_color = None
ya.major_label_standoff = 7
ya.major_label_text_font = "Liberation Sans"
ya.major_label_text_font_size = "22px"
ya.major_label_text_color = "#555555"

for txt, v, bg, fg in tags:
    p.add_layout(Label(x=2707.5, x_units="screen", y=v, y_units="data", text=txt, text_font="Liberation Sans",
                       text_font_size="22px", text_color=fg, text_align="center", text_baseline="middle",
                       background_fill_color=bg, padding=(12,8)))

HEAD_Y = 16 + (1329-116)/21.04
for name, nx, num, vx in legend:
    p.add_layout(Label(x=nx, x_units="screen", y=HEAD_Y, y_units="data", text=name, text_font="Open Sans",
                       text_font_size="28px", text_color="#555555", text_baseline="middle", text_align="left"))
    p.add_layout(Label(x=vx, x_units="screen", y=HEAD_Y, y_units="data", text=num, text_font="Open Sans",
                       text_font_size="28px", text_color="#4a1a12", text_baseline="middle", text_align="left"))
p.add_layout(Label(x=2, x_units="screen", y=HEAD_Y, y_units="data", text="\u229e", text_font="DejaVu Sans",
                   text_font_size="30px", text_color="#666666", text_baseline="middle", text_align="left"))

LOGO_Y = 16 + (1329-1313)/21.04
p.add_layout(Label(x=20, x_units="screen", y=LOGO_Y, y_units="data", text="Investing", text_font="Liberation Sans",
                   text_font_style="bold", text_font_size="41px", text_color="#111111", text_baseline="alphabetic", text_align="left"))
p.add_layout(Label(x=200, x_units="screen", y=LOGO_Y, y_units="data", text=".com", text_font="Liberation Sans",
                   text_font_size="27px", text_color="#666666", text_baseline="alphabetic", text_align="left"))

band = figure(width=2758, height=6, output_backend="svg", toolbar_location=None, min_border=0, outline_line_color=None,
              background_fill_color="#e4e5ea", border_fill_color="#e4e5ea", x_range=Range1d(0,1), y_range=Range1d(0,1))
band.axis.visible = False
band.grid.visible = False

page = column(t, p, band, spacing=0)
open("out.html", "w").write(file_html(page, INLINE))
